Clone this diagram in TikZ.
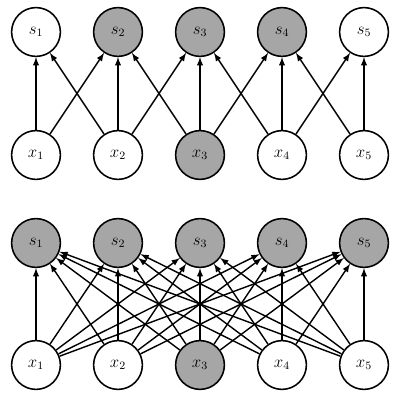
\documentclass[tikz,border=0pt]{standalone}
\usepackage{amssymb}
\usepackage{tikz}
\usepackage{xcolor}
\usetikzlibrary{
    arrows,
    positioning
}
\definecolor{unitgray}{HTML}{A6A6A6}
\tikzset{unit/.style={inner sep=0pt, minimum size=1.22cm, circle, draw=black, line width=1.1pt, fill=white, font=\large}}
\tikzset{hit/.style={unit, fill=unitgray}}
\tikzset{wire/.style={->, >=latex, line width=1pt}}

\begin{document}
\begin{tikzpicture}
                                            \useasboundingbox (0, 0) rectangle (10, 10.1);
                                            % sparse connections
                                            \node[unit] (ts1) at (0.9, 9.3) {$s_1$};
                                            \node[hit] (ts2) at (2.95, 9.3) {$s_2$};
                                            \node[hit] (ts3) at (5.0, 9.3) {$s_3$};
                                            \node[hit] (ts4) at (7.05, 9.3) {$s_4$};
                                            \node[unit] (ts5) at (9.1, 9.3) {$s_5$};
                                            \node[unit] (tx1) at (0.9, 6.225) {$x_1$};
                                            \node[unit] (tx2) at (2.95, 6.225) {$x_2$};
                                            \node[hit] (tx3) at (5.0, 6.225) {$x_3$};
                                            \node[unit] (tx4) at (7.05, 6.225) {$x_4$};
                                            \node[unit] (tx5) at (9.1, 6.225) {$x_5$};
                                            \draw
                                            (tx1) edge[wire] (ts1)
                                            (tx1) edge[wire] (ts2)
                                            (tx2) edge[wire] (ts1)
                                            (tx2) edge[wire] (ts2)
                                            (tx2) edge[wire] (ts3)
                                            (tx3) edge[wire] (ts2)
                                            (tx3) edge[wire] (ts3)
                                            (tx3) edge[wire] (ts4)
                                            (tx4) edge[wire] (ts3)
                                            (tx4) edge[wire] (ts4)
                                            (tx4) edge[wire] (ts5)
                                            (tx5) edge[wire] (ts4)
                                            (tx5) edge[wire] (ts5);
                                            % full connections
                                            \node[hit] (bs1) at (0.9, 4.025) {$s_1$};
                                            \node[hit] (bs2) at (2.95, 4.025) {$s_2$};
                                            \node[hit] (bs3) at (5.0, 4.025) {$s_3$};
                                            \node[hit] (bs4) at (7.05, 4.025) {$s_4$};
                                            \node[hit] (bs5) at (9.1, 4.025) {$s_5$};
                                            \node[unit] (bx1) at (0.9, 0.975) {$x_1$};
                                            \node[unit] (bx2) at (2.95, 0.975) {$x_2$};
                                            \node[hit] (bx3) at (5.0, 0.975) {$x_3$};
                                            \node[unit] (bx4) at (7.05, 0.975) {$x_4$};
                                            \node[unit] (bx5) at (9.1, 0.975) {$x_5$};
                                            \foreach \i in {1,...,5}
                                                \foreach \j in {1,...,5}
                                                    \draw (bx\i) edge[wire] (bs\j);
                                        \end{tikzpicture}
\end{document}
